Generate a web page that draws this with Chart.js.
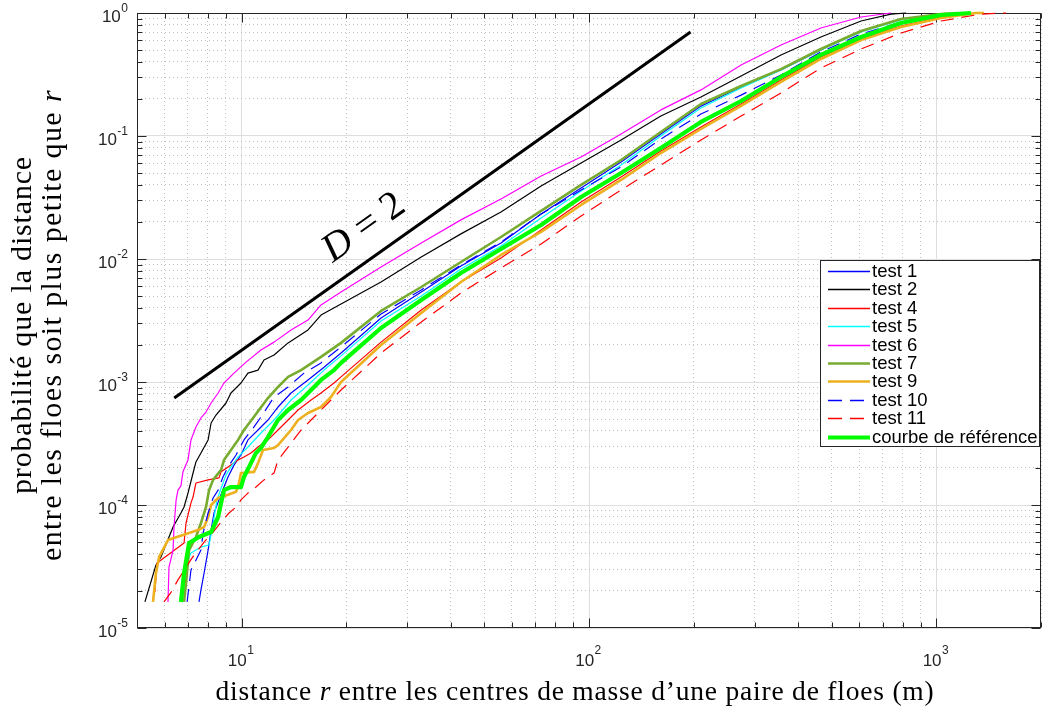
<!DOCTYPE html>
<html><head><meta charset="utf-8">
<script src="https://cdn.jsdelivr.net/npm/chart.js@4.4.1/dist/chart.umd.min.js"></script>
<style>html,body{margin:0;padding:0;background:#fff;overflow:hidden}</style>
</head><body>
<canvas id="c" width="1042" height="715" style="width:1042px;height:715px;display:block"></canvas>
<script>
// ---------------- data ----------------
const seriesLabels = ['test 1','test 2','test 4','test 5','test 6','test 7','test 9','test 10','test 11','courbe de référence'];

const test1 = [[7.54,1.63e-5],[7.64,2.04e-5],[7.80,2.80e-5],[8.01,4.30e-5],[8.17,6.26e-5],[8.33,8.61e-5],[8.61,1.10e-4],[8.90,1.40e-4],[9.14,1.69e-4],[9.51,2.11e-4],[9.96,2.55e-4],[10.43,3.38e-4],[11.15,4.07e-4],[11.91,4.91e-4],[12.73,6.26e-4],[13.88,8.14e-4],[15.53,1.04e-3],[17.27,1.32e-3],[19.33,1.72e-3],[25.2,3.31e-3],[32.9,5.39e-3],[42.8,8.77e-3],[55.8,0.0135],[72.8,0.0232],[94.9,0.0378],[123.7,0.0615],[161,0.104],[210,0.175],[274,0.250],[357,0.344],[465,0.500],[607,0.714],[791,0.894],[1031,0.98],[1154,1]];
const test2 = [[5.27,1.63e-5],[5.67,3.25e-5],[5.86,3.78e-5],[6.35,6.62e-5],[6.69,8.61e-5],[6.83,9.63e-5],[7.01,1.25e-4],[7.25,1.82e-4],[7.39,2.24e-4],[7.64,2.65e-4],[8.01,3.38e-4],[8.17,4.64e-4],[8.44,5.39e-4],[9.02,6.75e-4],[9.32,8.14e-4],[9.96,9.81e-4],[10.43,1.18e-3],[11.15,1.25e-3],[11.60,1.51e-3],[12.40,1.66e-3],[13.61,2.08e-3],[15.53,2.65e-3],[16.93,3.50e-3],[19.33,4.31e-3],[25.2,6.50e-3],[32.9,0.01038],[42.8,0.0160],[55.8,0.0241],[72.8,0.0392],[94.9,0.0603],[123.7,0.0928],[161,0.1454],[210,0.2075],[274,0.307],[357,0.456],[465,0.638],[607,0.861],[740,0.98],[818,1]];
const test4 = [[5.63,1.96e-5],[5.71,3.38e-5],[6.83,4.91e-5],[6.92,7.14e-5],[7.15,1.04e-4],[7.25,1.16e-4],[7.39,1.51e-4],[8.01,1.60e-4],[8.61,1.66e-4],[8.73,1.86e-4],[9.14,2.04e-4],[9.77,2.32e-4],[10.16,2.46e-4],[10.64,2.65e-4],[11.15,2.96e-4],[11.91,3.38e-4],[12.73,4.07e-4],[13.61,4.91e-4],[14.54,5.92e-4],[15.85,7.14e-4],[16.93,8.14e-4],[18.45,9.81e-4],[19.33,1.10e-3],[25.2,2.11e-3],[32.9,3.85e-3],[42.8,6.50e-3],[55.8,0.01019],[72.8,0.0172],[94.9,0.0291],[123.7,0.0464],[161,0.0755],[210,0.1183],[274,0.182],[357,0.285],[465,0.439],[607,0.615],[791,0.784],[1031,0.928],[1301,1]];
const test5 = [[6.83,1.63e-5],[6.92,3.25e-5],[7.15,4.07e-5],[7.64,4.55e-5],[8.06,4.73e-5],[8.22,6.26e-5],[8.50,1.10e-4],[8.73,1.37e-4],[9.02,1.75e-4],[9.32,2.04e-4],[9.77,2.46e-4],[10.43,2.96e-4],[11.37,3.85e-4],[12.40,4.91e-4],[13.88,7.14e-4],[15.53,9.45e-4],[17.27,1.25e-3],[19.33,1.63e-3],[25.2,3.13e-3],[32.9,5.00e-3],[42.8,8.29e-3],[55.8,0.01276],[72.8,0.0215],[94.9,0.0357],[123.7,0.0581],[161,0.100],[210,0.169],[274,0.246],[357,0.344],[465,0.500],[607,0.701],[791,0.877],[1031,0.98],[1154,1]];
const test6 = [[6.14,1.63e-5],[6.18,3.13e-5],[6.35,4.3e-5],[6.39,6.62e-5],[6.48,1.1e-4],[6.56,1.32e-4],[6.69,1.43e-4],[6.78,1.86e-4],[7.01,2.32e-4],[7.15,3.38e-4],[7.39,4.31e-4],[7.64,5.1e-4],[7.9,5.7e-4],[8.17,6.75e-4],[8.56,8.14e-4],[8.9,9.81e-4],[9.51,1.18e-3],[10.3,1.45e-3],[11.37,1.82e-3],[12.4,2.11e-3],[13.88,2.65e-3],[15.53,3.19e-3],[16.93,4.23e-3],[19.33,5.39e-3],[25.2,8.61e-3],[32.9,0.0135],[42.8,0.0208],[55.8,0.0307],[72.8,0.0473],[94.9,0.0675],[123.7,0.104],[161,0.163],[210,0.237],[274,0.378],[357,0.549],[465,0.755],[607,0.928],[740,1]];
const test7 = [[6.83,1.63e-5],[6.92,2.32e-5],[7.06,4.30e-5],[7.39,5.49e-5],[7.64,7.14e-5],[7.90,9.63e-5],[8.06,1.32e-4],[8.28,1.60e-4],[8.73,1.93e-4],[8.90,2.32e-4],[9.32,2.80e-4],[9.77,3.38e-4],[10.16,4.07e-4],[10.79,5.10e-4],[11.22,5.92e-4],[11.91,7.41e-4],[12.73,9.11e-4],[13.61,1.10e-3],[14.83,1.25e-3],[16.93,1.60e-3],[19.33,2.08e-3],[25.2,3.78e-3],[32.9,5.92e-3],[42.8,9.45e-3],[55.8,0.0151],[72.8,0.0246],[94.9,0.0400],[123.7,0.0638],[161,0.1078],[210,0.182],[274,0.255],[357,0.350],[465,0.510],[607,0.714],[791,0.894],[1031,0.98],[1154,1]];
const test9 = [[5.56,1.63e-5],[5.67,2.80e-5],[5.79,3.78e-5],[6.14,5.19e-5],[7.49,6.26e-5],[7.80,6.62e-5],[8.01,7.99e-5],[8.17,1.00e-4],[8.56,1.14e-4],[9.14,1.21e-4],[9.64,1.28e-4],[9.83,1.51e-4],[9.96,1.82e-4],[10.86,1.86e-4],[11.15,2.19e-4],[11.53,2.80e-4],[12.40,2.91e-4],[12.73,3.07e-4],[13.88,4.07e-4],[14.54,4.91e-4],[15.53,5.60e-4],[16.93,6.26e-4],[18.09,7.55e-4],[19.33,1.0e-3],[25.2,2.00e-3],[32.9,3.64e-3],[42.8,6.50e-3],[55.8,0.01078],[72.8,0.0166],[94.9,0.0275],[123.7,0.0439],[161,0.0727],[210,0.1140],[274,0.1754],[357,0.275],[465,0.423],[607,0.603],[791,0.770],[1031,0.911],[1301,1],[1371,1]];
const test10 = [[6.97,1.63e-5],[7.15,2.96e-5],[7.64,4.30e-5],[7.75,5.92e-5],[8.01,8.61e-5],[8.28,1.14e-4],[8.56,1.32e-4],[8.84,1.69e-4],[9.14,2.04e-4],[9.64,2.55e-4],[10.16,3.38e-4],[10.86,4.31e-4],[11.37,5.19e-4],[12.40,7.55e-4],[13.61,9.11e-4],[15.12,1.18e-3],[16.93,1.43e-3],[19.33,1.93e-3],[25.2,3.57e-3],[32.9,5.60e-3],[42.8,8.94e-3],[55.8,0.01375],[72.8,0.0232],[94.9,0.0364],[123.7,0.0560],[161,0.0945],[210,0.151],[274,0.215],[357,0.313],[465,0.482],[607,0.675],[791,0.845],[1031,0.963],[1154,1]];
const test11 = [[5.98,1.63e-5],[6.27,1.96e-5],[6.56,2.46e-5],[6.92,3.13e-5],[7.30,3.92e-5],[7.80,5.00e-5],[8.28,6.03e-5],[8.73,7.27e-5],[9.20,8.61e-5],[9.64,9.63e-5],[9.96,1.10e-4],[10.43,1.25e-4],[11.00,1.40e-4],[11.60,1.60e-4],[12.40,1.82e-4],[12.73,2.32e-4],[13.61,2.96e-4],[14.83,4.07e-4],[15.85,4.91e-4],[17.27,6.26e-4],[18.09,7.14e-4],[19.33,8.61e-4],[25.2,1.72e-3],[32.9,3.07e-3],[42.8,5.29e-3],[55.8,8.45e-3],[72.8,0.01324],[94.9,0.0224],[123.7,0.0364],[161,0.0581],[210,0.0928],[274,0.1454],[357,0.224],[465,0.357],[607,0.510],[791,0.688],[1031,0.861],[1344,0.98],[1586,1]];
const reference = [[6.69,1.63e-5],[6.83,2.80e-5],[7.06,4.91e-5],[7.54,5.49e-5],[8.17,6.03e-5],[8.56,7.99e-5],[8.73,1.04e-4],[8.90,1.32e-4],[9.32,1.40e-4],[9.96,1.40e-4],[10.16,1.69e-4],[10.64,2.19e-4],[11.00,2.65e-4],[11.37,2.91e-4],[11.91,3.57e-4],[12.73,4.91e-4],[13.61,5.92e-4],[14.83,7.14e-4],[15.85,8.61e-4],[16.93,1.04e-3],[18.45,1.25e-3],[19.33,1.43e-3],[25.2,2.75e-3],[32.9,4.64e-3],[42.8,7.70e-3],[55.8,0.01206],[72.8,0.0189],[94.9,0.0319],[123.7,0.0500],[161,0.0799],[210,0.1300],[274,0.1926],[357,0.302],[465,0.456],[607,0.638],[791,0.829],[1031,0.963],[1258,1]];
const slopeLine = [[6.4,7.4e-4],[196,0.70]];   // reference line of slope D = 2
const slopeLabel = [{t:'D',i:true},{t:' = 2',i:false}];
const slopeLabelAt = [22.5, 0.0179];

const xTickValues = [10,100,1000];
const xTickExps = ['1','2','3'];
const yTickValues = [1e-5,1e-4,1e-3,1e-2,1e-1,1];
const yTickExps = ['-5','-4','-3','-2','-1','0'];
const xTitle = [{t:'distance ',i:false},{t:'r',i:true},{t:' entre les centres de masse d\u2019une paire de floes (m)',i:false}];
const yTitle1 = [{t:'probabilité que la distance',i:false}];
const yTitle2 = [{t:'entre les floes soit plus petite que ',i:false},{t:'r',i:true}];

// ---------------- styles ----------------
const styles = [
  {c:'#0000FF',w:1.2,d:[]},
  {c:'#000000',w:1.2,d:[]},
  {c:'#FF0000',w:1.2,d:[]},
  {c:'#00FFFF',w:1.2,d:[]},
  {c:'#FF00FF',w:1.2,d:[]},
  {c:'#77AC30',w:2.6,d:[]},
  {c:'#EDB120',w:2.6,d:[]},
  {c:'#0000FF',w:1.2,d:[13,8]},
  {c:'#FF0000',w:1.2,d:[13,8]},
  {c:'#00FF00',w:4.2,d:[]}
];
const allSeries = [test1,test2,test4,test5,test6,test7,test9,test10,test11,reference];
const xMin=5, xMax=2000, yMin=1e-5, yMax=1;

function isDecade(v){const l=Math.log10(v);return Math.abs(l-Math.round(l))<1e-6;}
function logTicks(min,max){const t=[];for(let e=Math.floor(Math.log10(min));e<=Math.ceil(Math.log10(max));e++){for(let m=1;m<10;m++){const v=m*Math.pow(10,e);if(v>=min*0.999999&&v<=max*1.000001)t.push(v);}}return t;}

const datasets = allSeries.map((s,i)=>({
  label: seriesLabels[i],
  data: s.map(p=>({x:p[0],y:p[1]})),
  borderColor: styles[i].c, borderWidth: styles[i].w, borderDash: styles[i].d,
  pointRadius:0, fill:false, tension:0, clip:false, order: 20-i,
  borderJoinStyle:'round'
}));
datasets.push({label:'_slope', data: slopeLine.map(p=>({x:p[0],y:p[1]})), borderColor:'#000', borderWidth:3, pointRadius:0, fill:false, tension:0, clip:false, order:1});

const SERIF='"Liberation Serif", "Times New Roman", serif';
const SANS='"Liberation Sans", Arial, sans-serif';

function setLS(ctx,v){ if('letterSpacing' in ctx) ctx.letterSpacing=v+'px'; }
function richWidth(ctx,parts,size){let w=0;parts.forEach(p=>{ctx.font=(p.i?'italic ':'')+size+'px '+SERIF;w+=ctx.measureText(p.t).width;});return w;}
function drawRich(ctx,parts,size,cx,cy){const w=richWidth(ctx,parts,size);let x=cx-w/2;parts.forEach(p=>{ctx.font=(p.i?'italic ':'')+size+'px '+SERIF;ctx.fillText(p.t,x,cy);x+=ctx.measureText(p.t).width;});}
// draw a title at a given font size, widened slightly with letter spacing to span a target width
function drawSpaced(ctx,parts,size,target,cx,cy){
  setLS(ctx,0);
  const w0=richWidth(ctx,parts,size);
  const n=parts.reduce((a,p)=>a+p.t.length,0);
  setLS(ctx,Math.max(0,(target-w0)/n));
  const w=richWidth(ctx,parts,size);
  let s=size;
  if(w<target*0.97){ setLS(ctx,0); s=size*target/w0; }
  drawRich(ctx,parts,s,cx,cy);
  setLS(ctx,0);
}

const decor = {
  id:'decor',
  beforeDatasetsDraw(chart){
    const {ctx, chartArea:a, scales:{x,y}} = chart;
    ctx.save();
    ctx.strokeStyle='#262626'; ctx.lineWidth=1;
    const L=Math.round(a.left)+0.5, R=Math.round(a.right)-0.5, T=Math.round(a.top)+0.5, B=Math.round(a.bottom)-0.5;
    ctx.strokeRect(L,T,R-L,B-T);
    ctx.beginPath();
    x.ticks.forEach(t=>{const px=Math.round(x.getPixelForValue(t.value))+0.5;const len=isDecade(t.value)?9:5;ctx.moveTo(px,B);ctx.lineTo(px,B-len);ctx.moveTo(px,T);ctx.lineTo(px,T+len);});
    y.ticks.forEach(t=>{const py=Math.round(y.getPixelForValue(t.value))+0.5;const len=isDecade(t.value)?9:5;ctx.moveTo(L,py);ctx.lineTo(L+len,py);ctx.moveTo(R,py);ctx.lineTo(R-len,py);});
    ctx.stroke();
    ctx.restore();
  },
  afterDatasetsDraw(chart){
    const {ctx, scales:{x,y}} = chart;
    ctx.save();
    // slope annotation
    const p0x=x.getPixelForValue(slopeLine[0][0]), p0y=y.getPixelForValue(slopeLine[0][1]);
    const p1x=x.getPixelForValue(slopeLine[1][0]), p1y=y.getPixelForValue(slopeLine[1][1]);
    const ang=Math.atan2(p1y-p0y,p1x-p0x);
    ctx.translate(x.getPixelForValue(slopeLabelAt[0]), y.getPixelForValue(slopeLabelAt[1]));
    ctx.rotate(ang);
    ctx.fillStyle='#000'; ctx.textBaseline='middle';
    drawRich(ctx,slopeLabel,40,0,0);
    ctx.restore();

    // legend
    ctx.save();
    const lx0=820, ly0=260, lx1=1040, ly1=447;
    ctx.fillStyle='#fff'; ctx.fillRect(lx0,ly0,lx1-lx0,ly1-ly0);
    ctx.strokeStyle='#262626'; ctx.lineWidth=1; ctx.strokeRect(lx0+0.5,ly0+0.5,lx1-lx0-1,ly1-ly0-1);
    ctx.font='18.5px '+SANS; ctx.textBaseline='middle'; ctx.fillStyle='#000';
    seriesLabels.forEach((lab,i)=>{
      const cy=271+i*18.4;
      ctx.beginPath(); ctx.strokeStyle=styles[i].c; ctx.lineWidth=Math.max(1.5,styles[i].w); ctx.setLineDash(styles[i].d.length?[14,8]:[]);
      ctx.moveTo(828,Math.round(cy)+0.5); ctx.lineTo(870,Math.round(cy)+0.5); ctx.stroke();
      ctx.setLineDash([]);
      ctx.fillText(lab,872,cy+1);
    });
    ctx.restore();
  },
  afterDraw(chart){
    const {ctx, chartArea:a, scales:{x,y}} = chart;
    ctx.save(); ctx.fillStyle='#262626';
    // x tick labels
    xTickValues.forEach((v,i)=>{
      const px=x.getPixelForValue(v);
      ctx.font='17px '+SANS; const w1=ctx.measureText('10').width;
      ctx.font='12px '+SANS; const w2=ctx.measureText(xTickExps[i]).width;
      const s=px-(w1+w2)/2-1;
      ctx.textBaseline='middle';
      ctx.font='17px '+SANS; ctx.fillText('10',s,a.bottom+33);
      ctx.font='12px '+SANS; ctx.fillText(xTickExps[i],s+w1+0.5,a.bottom+23);
    });
    // y tick labels
    yTickValues.forEach((v,i)=>{
      const py=y.getPixelForValue(v);
      ctx.font='12px '+SANS; const w2=ctx.measureText(yTickExps[i]).width;
      ctx.font='17px '+SANS; const w1=ctx.measureText('10').width;
      const right=a.left-9;
      ctx.textBaseline='middle';
      ctx.fillText('10',right-w2-w1-0.5,py+4);
      ctx.font='12px '+SANS; ctx.fillText(yTickExps[i],right-w2,py-4);
    });
    // axis titles
    ctx.fillStyle='#000'; ctx.textBaseline='alphabetic';
    drawSpaced(ctx,xTitle,27.5,719,575,700);
    const cy=325;
    ctx.save(); ctx.translate(31,cy); ctx.rotate(-Math.PI/2); drawSpaced(ctx,yTitle1,30,338,0,0); ctx.restore();
    ctx.save(); ctx.translate(61,cy); ctx.rotate(-Math.PI/2); drawSpaced(ctx,yTitle2,30,472,0,0); ctx.restore();
    ctx.restore();
  }
};

const gridColor = c => (c.tick && isDecade(c.tick.value)) ? '#dedede' : '#bfbfbf';
const gridDash = c => (c.tick && !isDecade(c.tick.value)) ? [1,3] : [];

new Chart(document.getElementById('c'), {
  type:'line',
  data:{datasets},
  options:{
    responsive:false, animation:false, devicePixelRatio:1, events:[],
    layout:{padding:{left:137,right:1,top:13,bottom:87}},
    plugins:{legend:{display:false},tooltip:{enabled:false}},
    scales:{
      x:{type:'logarithmic',min:xMin,max:xMax,
         afterBuildTicks:s=>{s.ticks=logTicks(xMin,xMax).map(v=>({value:v}));},
         ticks:{display:false},
         grid:{drawTicks:false,color:gridColor,lineWidth:1},
         border:{display:false,dash:gridDash}},
      y:{type:'logarithmic',min:yMin,max:yMax,
         afterBuildTicks:s=>{s.ticks=logTicks(yMin,yMax).map(v=>({value:v}));},
         ticks:{display:false},
         grid:{drawTicks:false,color:gridColor,lineWidth:1},
         border:{display:false,dash:gridDash}}
    }
  },
  plugins:[decor]
});
</script>
</body></html>
